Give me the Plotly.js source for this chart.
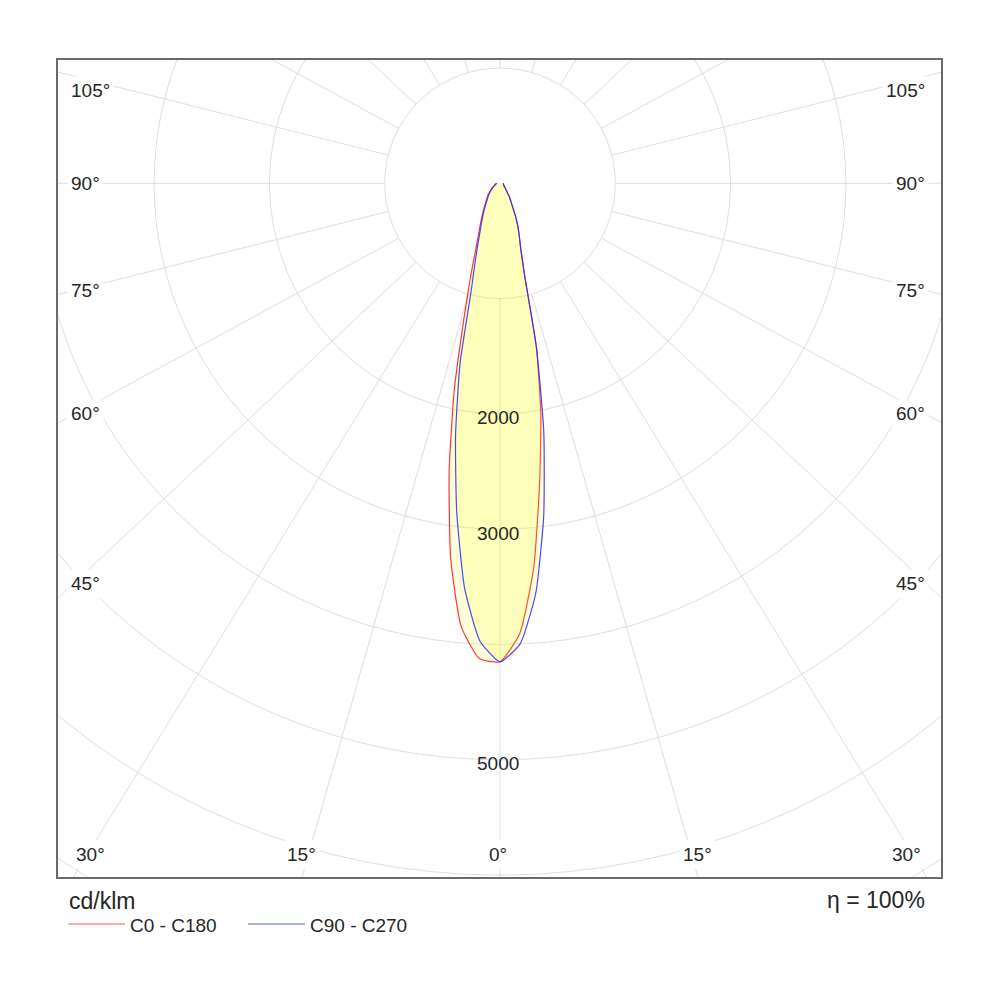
<!DOCTYPE html>
<html>
<head>
<meta charset="utf-8">
<script src="https://cdn.plot.ly/plotly-3.0.1.min.js"></script>
<style>
  html, body { margin: 0; padding: 0; background: #fff; }
  #chart { width: 1000px; height: 1000px; }
</style>
</head>
<body>
<div id="chart"></div>
<script>
// gamma angles (deg) and luminous intensity (cd/klm)
const gamma = [0, 2.5, 5, 7.5, 10, 12.5, 15, 17.5, 20, 22.5, 25, 30, 35, 40, 45, 50, 60, 70, 80, 90];
const c0   = [4150, 3910, 3350, 2630, 2040, 1460, 820, 600, 490, 403, 322, 198, 140, 90, 70, 55, 40, 32, 30, 29];
const c180 = [4150, 4125, 3860, 3280, 2540, 1830, 1200, 850, 620, 490, 410, 300, 227, 180, 150, 118, 75, 50, 38, 29];
const c90  = [4150, 3998, 3565, 2905, 2185, 1460, 820, 600, 490, 405, 322, 198, 140, 90, 70, 55, 40, 32, 30, 29];
const c270 = [4150, 3975, 3525, 2875, 2220, 1600, 965, 720, 560, 450, 380, 280, 210, 165, 135, 110, 72, 48, 36, 29];

const ringValues = [1000, 2000, 3000, 4000, 5000, 6000, 7000];
const ringLabels = [2000, 3000, 5000];
const rayAngles = [0, 15, 30, 45, 60, 75, 90, 105, 120, 135, 150, 165, 180];
const sideLabels = ['105°', '90°', '75°', '60°', '45°'];
const bottomLabels = ['30°', '15°', '0°', '15°', '30°'];

// page geometry
const L = 58, R = 941, T = 60, B = 877;
const CX = 500, CY = 183.3, PXU = 0.1153;   // px per cd/klm
const STRETCH = 1.065;                       // rays are drawn a bit wider than true angles
const px2x = px => (px - CX) / PXU;
const py2y = py => (CY - py) / PXU;
const paperX = px => (px - L) / (R - L);
const paperY = py => (B - py) / (B - T);

const rad = d => d * Math.PI / 180;

// closed outline: left half plane (C180/C270) then right half plane (C0/C90)
function outline(left, right) {
  const xs = [], ys = [];
  for (let i = gamma.length - 1; i >= 0; i--) {
    xs.push(-left[i] * Math.sin(rad(gamma[i])));
    ys.push(-left[i] * Math.cos(rad(gamma[i])));
  }
  // nadir value is shared, so start the right half at the next angle
  for (let i = 1; i < gamma.length; i++) {
    xs.push(right[i] * Math.sin(rad(gamma[i])));
    ys.push(-right[i] * Math.cos(rad(gamma[i])));
  }
  return { xs, ys };
}

const red = outline(c180, c0);
const blue = outline(c270, c90);

const traces = [
  {
    x: red.xs, y: red.ys, type: 'scatter', mode: 'lines', name: 'C0 - C180',
    fill: 'toself', fillcolor: 'rgba(255,255,0,0.14)',
    line: { color: 'rgba(255,20,20,0.85)', width: 1.2, shape: 'spline', smoothing: 0.5 },
    hoverinfo: 'skip'
  },
  {
    x: blue.xs, y: blue.ys, type: 'scatter', mode: 'lines', name: 'C90 - C270',
    fill: 'toself', fillcolor: 'rgba(255,255,0,0.14)',
    line: { color: 'rgba(40,40,255,0.85)', width: 1.2, shape: 'spline', smoothing: 0.5 },
    hoverinfo: 'skip'
  }
];

const gridColor = '#dedede';
const shapes = [];
ringValues.forEach(r => {
  shapes.push({
    type: 'circle', xref: 'x', yref: 'y', layer: 'below',
    x0: -r, x1: r, y0: -r, y1: r,
    line: { color: gridColor, width: 1 }
  });
});
rayAngles.forEach(a => {
  [1, -1].forEach(side => {
    if (side === -1 && (a === 0 || a === 180)) return;
    let dx = STRETCH * Math.sin(rad(a)) * side, dy = -Math.cos(rad(a));
    const n = Math.hypot(dx, dy);
    dx /= n; dy /= n;
    const r0 = ringValues[0], r1 = 9000;
    shapes.push({
      type: 'line', xref: 'x', yref: 'y', layer: 'below',
      x0: dx * r0, y0: dy * r0, x1: dx * r1, y1: dy * r1,
      line: { color: gridColor, width: 1 }
    });
  });
});

// legend swatches
shapes.push({ type: 'line', xref: 'paper', yref: 'paper',
  x0: paperX(68), x1: paperX(125), y0: paperY(924), y1: paperY(924),
  line: { color: '#ffaaaa', width: 2 } });
shapes.push({ type: 'line', xref: 'paper', yref: 'paper',
  x0: paperX(248), x1: paperX(305), y0: paperY(924), y1: paperY(924),
  line: { color: '#aaaaff', width: 2 } });

const txt = '#262626';
const FONT = 'Liberation Sans, Arial, sans-serif';
const annotations = [];

// angle labels on both sides
const sideY = [90, 183.3, 290, 413.3, 583.3];
sideLabels.forEach((t, i) => {
  annotations.push({ text: t, xref: 'paper', yref: 'paper', x: paperX(67), y: paperY(sideY[i]),
    xanchor: 'left', yanchor: 'middle', showarrow: false, bgcolor: '#fff', borderpad: 3,
    font: { family: FONT, size: 19, color: txt } });
  annotations.push({ text: t, xref: 'paper', yref: 'paper', x: paperX(929), y: paperY(sideY[i]),
    xanchor: 'right', yanchor: 'middle', showarrow: false, bgcolor: '#fff', borderpad: 3,
    font: { family: FONT, size: 19, color: txt } });
});
const bottomX = [90.5, 301, 497.5, 697, 906];
bottomLabels.forEach((t, i) => {
  annotations.push({ text: t, xref: 'paper', yref: 'paper', x: paperX(bottomX[i]), y: paperY(854),
    xanchor: 'center', yanchor: 'middle', showarrow: false, bgcolor: '#fff', borderpad: 3,
    font: { family: FONT, size: 19, color: txt } });
});

// ring value labels along the nadir line
ringLabels.forEach(v => {
  annotations.push({ text: String(v), xref: 'x', yref: 'y', x: px2x(497.5), y: -v,
    yshift: -4, xanchor: 'center', yanchor: 'middle', showarrow: false,
    font: { family: FONT, size: 19, color: txt } });
});

annotations.push({ text: 'cd/klm', xref: 'paper', yref: 'paper', x: paperX(67), y: paperY(901),
  xanchor: 'left', yanchor: 'middle', showarrow: false,
  font: { family: FONT, size: 23, color: txt } });
annotations.push({ text: 'η = 100%', xref: 'paper', yref: 'paper', x: paperX(927), y: paperY(900),
  xanchor: 'right', yanchor: 'middle', showarrow: false,
  font: { family: FONT, size: 23, color: txt } });
annotations.push({ text: 'C0 - C180', xref: 'paper', yref: 'paper', x: paperX(128), y: paperY(925),
  xanchor: 'left', yanchor: 'middle', showarrow: false,
  font: { family: FONT, size: 19, color: txt } });
annotations.push({ text: 'C90 - C270', xref: 'paper', yref: 'paper', x: paperX(308), y: paperY(925),
  xanchor: 'left', yanchor: 'middle', showarrow: false,
  font: { family: FONT, size: 19, color: txt } });

const axisCommon = {
  showgrid: false, zeroline: false, showticklabels: false, ticks: '',
  showline: true, mirror: true, linecolor: '#6a6a6a', linewidth: 2, fixedrange: true
};

const layout = {
  width: 1000, height: 1000,
  margin: { l: L, r: 1000 - R, t: T, b: 1000 - B, pad: 0 },
  paper_bgcolor: '#fff', plot_bgcolor: '#fff',
  showlegend: false,
  xaxis: Object.assign({ range: [px2x(L), px2x(R)] }, axisCommon),
  yaxis: Object.assign({ range: [py2y(B), py2y(T)] }, axisCommon),
  shapes: shapes,
  annotations: annotations
};

Plotly.newPlot('chart', traces, layout, { displayModeBar: false, staticPlot: true });
</script>
</body>
</html>
